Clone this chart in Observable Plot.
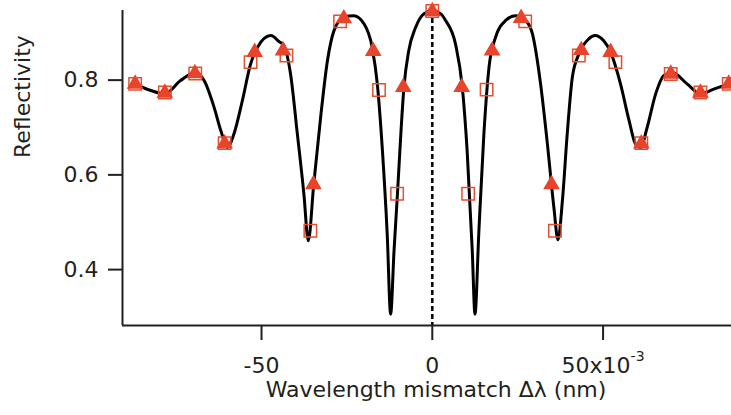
<!DOCTYPE html>
<html><head><meta charset="utf-8">
<script src="https://cdn.jsdelivr.net/npm/d3@7"></script>
<script src="https://cdn.jsdelivr.net/npm/@observablehq/plot@0.6"></script>
<style>
html,body{margin:0;padding:0;background:#fff;}
#chart{width:731px;height:415px;}
</style>
</head><body><div id="chart"></div>
<script>
// x values in units of 10^-3 nm
const curveX = [-87.1,-82.4,-78.3,-73.7,-69.4,-66.8,-63.9,-61.9,-60.0,-58.1,-55.6,-53.2,-51.2,-47.3,-44.6,-43.7,-41.5,-39.5,-37.6,-36.3,-34.7,-32.7,-30.7,-28.8,-25.9,-23.0,-20.0,-17.6,-16.1,-14.6,-13.2,-12.2,-11.2,-10.2,-9.1,-8.3,-6.9,-4.9,-2.5,0,
  2.5,3.9,6.8,8.8,10.2,11.7,12.5,13.6,15.1,16.6,18.5,21.5,24.4,27.3,29.3,31.7,33.7,35.6,36.8,38.1,39.5,41.0,42.9,45.8,47.6,50.2,52.2,55.1,57.6,59.5,61.0,62.9,65.4,67.8,70.3,74.6,78.5,82.4,86.8];
const curveY = [0.792,0.778,0.771,0.799,0.816,0.799,0.743,0.693,0.658,0.686,0.757,0.834,0.869,0.894,0.880,0.876,0.813,0.686,0.560,0.461,0.581,0.721,0.841,0.904,0.933,0.936,0.919,0.869,0.792,0.651,0.475,0.306,0.440,0.560,0.700,0.785,0.862,0.911,0.940,0.947,
  0.940,0.926,0.876,0.784,0.651,0.440,0.306,0.475,0.686,0.827,0.890,0.926,0.936,0.926,0.898,0.792,0.665,0.531,0.463,0.546,0.686,0.806,0.855,0.887,0.894,0.883,0.859,0.792,0.715,0.665,0.658,0.700,0.771,0.810,0.816,0.792,0.771,0.781,0.792];

const triangleX = [-87.0,-78.3,-69.5,-60.8,-52.0,-43.7,-34.8,-25.9,-17.3,-8.5,0,8.6,17.5,26.0,34.9,43.6,52.2,61.2,69.8,78.5,86.8];
const triangleY = [0.792,0.773,0.814,0.666,0.859,0.862,0.580,0.930,0.861,0.785,0.945,0.785,0.862,0.931,0.580,0.863,0.859,0.666,0.813,0.773,0.792];

const squareX = [-87.0,-78.3,-69.4,-60.8,-53.2,-42.7,-35.7,-27.0,-15.6,-10.3,0,10.5,15.9,27.2,35.9,42.9,53.6,61.2,69.8,78.5,86.8];
const squareY = [0.792,0.774,0.814,0.667,0.838,0.852,0.482,0.924,0.779,0.560,0.946,0.560,0.780,0.924,0.482,0.852,0.838,0.667,0.813,0.774,0.792];

const xTicks = [-50, 0, 50];
const xTickLabels = ["-50", "0", "50x10"];
const xExponent = "-3";
const yTicks = [0.4, 0.6, 0.8];
const xTitle = "Wavelength mismatch \u0394\u03bb (nm)";
const yTitle = "Reflectivity";

const xDomain = [-90.7, 87.6];
const yDomain = [0.282, 0.947];

const curve = curveX.map((x, i) => ({x, y: curveY[i]}));
const triangles = triangleX.map((x, i) => ({x, y: triangleY[i]}));
const squares = squareX.map((x, i) => ({x, y: squareY[i]}));

const ink = "#231f20";
const red = "#e8432b";

const plot = Plot.plot({
  width: 731, height: 415,
  marginLeft: 122, marginRight: 0, marginTop: 10, marginBottom: 90,
  style: {fontFamily: "DejaVu Sans", fontSize: "22px", color: ink, background: "#fff", overflow: "visible"},
  x: {domain: xDomain},
  y: {domain: yDomain},
  marks: [
    Plot.ruleX([0], {stroke: "#000", strokeWidth: 2.5, strokeDasharray: "5,3"}),
    Plot.line(curve, {x: "x", y: "y", curve: "monotone-x", stroke: "#000", strokeWidth: 3}),
    Plot.dot(squares, {x: "x", y: "y", symbol: "square", r: 7, stroke: "#e4502f", strokeWidth: 1.5, fill: "none"}),
    Plot.dot(triangles, {x: "x", y: "y", symbol: "triangle", r: 6.2, fill: red, stroke: "none"}),
    Plot.axisY({ticks: yTicks, tickSize: 14, tickPadding: 10, tickFormat: d3.format(".1f"), label: null, strokeWidth: 2}),
    Plot.axisX({ticks: xTicks, tickSize: 15, tickPadding: 17, tickFormat: d => xTickLabels[xTicks.indexOf(d)], label: null, strokeWidth: 2}),
    Plot.ruleX([xDomain[0]], {stroke: ink, strokeWidth: 2}),
    Plot.ruleY([yDomain[0]], {stroke: ink, strokeWidth: 2}),
    Plot.text([xTitle], {text: d => d, frameAnchor: "bottom", dx: 9, dy: 71, fill: ink}),
    Plot.text([yTitle], {text: d => d, frameAnchor: "left", rotate: -90, dx: -100, dy: -10, fill: ink})
  ]
});

plot.querySelectorAll("text").forEach(t => {
  if (t.textContent === xTickLabels[2]) {
    const ts = document.createElementNS("http://www.w3.org/2000/svg", "tspan");
    ts.setAttribute("dy", "-12");
    ts.setAttribute("font-size", "14");
    ts.textContent = xExponent;
    t.appendChild(ts);
  }
});

document.getElementById("chart").appendChild(plot);
</script>
</body></html>
